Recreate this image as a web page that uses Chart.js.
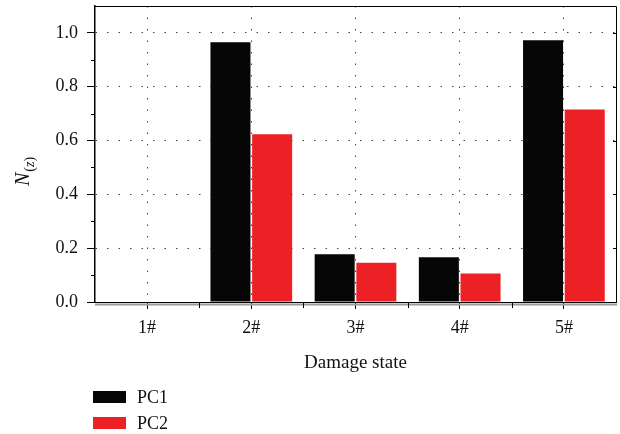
<!DOCTYPE html>
<html>
<head>
<meta charset="utf-8">
<script src="https://cdn.jsdelivr.net/npm/chart.js@4"></script>
<style>
  html, body { margin: 0; padding: 0; background: #fff; }
  #wrap { width: 620px; height: 434px; }
</style>
</head>
<body>
<div id="wrap"><canvas id="chart" width="620" height="434"></canvas></div>
<script>
// data
const damageStates = ['1#', '2#', '3#', '4#', '5#'];
const pc1 = [0, 0.965, 0.177, 0.166, 0.973];
const pc2 = [0, 0.623, 0.146, 0.106, 0.715];
const yTicks = [0, 0.2, 0.4, 0.6, 0.8, 1.0];

const serif = "'Liberation Serif', 'Times New Roman', serif";

// frame, extra ticks and the second grey axis line
const framePlugin = {
    id: 'frame',
    afterDraw(chart) {
        const { ctx, chartArea: a, scales } = chart;
        ctx.save();
        ctx.strokeStyle = '#000';
        ctx.lineWidth = 1;
        ctx.beginPath();
        ctx.moveTo(a.left, a.top + 0.5);
        ctx.lineTo(a.right + 0.5, a.top + 0.5);
        ctx.lineTo(a.right + 0.5, a.bottom);
        ctx.stroke();

        // grey line under the x axis
        ctx.strokeStyle = '#9a9a9a';
        ctx.lineWidth = 2;
        ctx.beginPath();
        ctx.moveTo(a.left, a.bottom + 2.5);
        ctx.lineTo(a.right + 1, a.bottom + 2.5);
        ctx.stroke();

        // minor y ticks
        ctx.strokeStyle = '#000';
        ctx.lineWidth = 1;
        ctx.beginPath();
        [0.1, 0.3, 0.5, 0.7, 0.9].forEach(v => {
            const y = Math.round(scales.y.getPixelForValue(v)) + 0.5;
            ctx.moveTo(a.left - 4, y);
            ctx.lineTo(a.left, y);
        });
        // right side inward ticks
        yTicks.forEach(v => {
            const y = Math.round(scales.y.getPixelForValue(v)) + 0.5;
            ctx.moveTo(a.right - 3, y);
            ctx.lineTo(a.right, y);
        });
        // x ticks on category boundaries
        const step = scales.x.getPixelForValue(1) - scales.x.getPixelForValue(0);
        for (let i = 0; i < damageStates.length - 1; i++) {
            const x = Math.round(scales.x.getPixelForValue(i) + step / 2) + 0.5;
            ctx.moveTo(x, a.bottom);
            ctx.lineTo(x, a.bottom + 6);
        }
        ctx.stroke();

        // y axis title N(z)
        ctx.fillStyle = '#111';
        ctx.rotate(-Math.PI / 2);
        ctx.textBaseline = 'alphabetic';
        ctx.textAlign = 'left';
        ctx.font = 'italic 20px ' + serif;
        let rx = -186;
        ctx.fillText('N', rx, 29);
        rx += ctx.measureText('N').width + 1;
        ctx.font = '14px ' + serif;
        ctx.fillText('(', rx, 34);
        rx += ctx.measureText('(').width;
        ctx.font = 'italic 14px ' + serif;
        ctx.fillText('z', rx, 34);
        rx += ctx.measureText('z').width;
        ctx.font = '14px ' + serif;
        ctx.fillText(')', rx, 34);
        ctx.restore();
    }
};

// vertical legend under the axis title
const legendPlugin = {
    id: 'stackLegend',
    afterDraw(chart) {
        const { ctx } = chart;
        ctx.save();
        ctx.font = '18px ' + serif;
        ctx.textBaseline = 'middle';
        chart.data.datasets.forEach((ds, i) => {
            const y = 391 + i * 26;
            ctx.fillStyle = ds.backgroundColor;
            ctx.fillRect(93, y, 33, 12);
            ctx.fillStyle = '#111';
            ctx.fillText(ds.label, 137, y + 7);
        });
        ctx.restore();
    }
};

new Chart(document.getElementById('chart'), {
    type: 'bar',
    data: {
        labels: damageStates,
        datasets: [
            { label: 'PC1', data: pc1, backgroundColor: '#060606', borderWidth: 0 },
            { label: 'PC2', data: pc2, backgroundColor: '#ed2025', borderWidth: 0 }
        ]
    },
    options: {
        responsive: false,
        animation: false,
        categoryPercentage: 0.8,
        barPercentage: 0.96,
        layout: { padding: { left: 0, right: 4, top: 6, bottom: 52 } },
        plugins: {
            legend: { display: false },
            tooltip: { enabled: false }
        },
        scales: {
            x: {
                offset: true,
                afterFit: scale => {
                    scale.height = 80;
                    scale.paddingLeft = 0;
                    scale.paddingRight = 0;
                },
                grid: {
                    offset: false,
                    color: '#444',
                    tickColor: '#000',
                    tickBorderDash: [],
                    tickLength: 7
                },
                border: { color: '#000', width: 1, dash: [1.5, 10] },
                ticks: {
                    color: '#111',
                    padding: 8,
                    font: { family: serif, size: 18 }
                },
                title: {
                    display: true,
                    text: 'Damage state',
                    color: '#111',
                    padding: { top: 4, bottom: 8 },
                    font: { family: serif, size: 19 }
                }
            },
            y: {
                min: 0,
                max: 1.1,
                afterFit: scale => {
                    scale.width = 95;
                    scale.paddingTop = 0;
                    scale.paddingBottom = 0;
                },
                grid: {
                    color: ctx => {
                        const v = Math.round(ctx.tick.value * 10);
                        return (v % 2 === 0 && v > 0 && v < 11) ? '#444' : 'rgba(0,0,0,0)';
                    },
                    tickColor: ctx => {
                        const v = Math.round(ctx.tick.value * 10);
                        return (v % 2 === 0 && v < 11) ? '#000' : 'rgba(0,0,0,0)';
                    },
                    tickBorderDash: [],
                    tickLength: 8
                },
                border: { color: '#000', width: 1.5, dash: [1.5, 10] },
                ticks: {
                    stepSize: 0.1,
                    autoSkip: false,
                    color: '#111',
                    padding: 9,
                    font: { family: serif, size: 18 },
                    callback: v => {
                        const n = Math.round(v * 10);
                        return (n % 2 === 0 && yTicks.includes(n / 10)) ? (n / 10).toFixed(1) : '';
                    }
                }
            }
        }
    },
    plugins: [framePlugin, legendPlugin]
});
</script>
</body>
</html>
